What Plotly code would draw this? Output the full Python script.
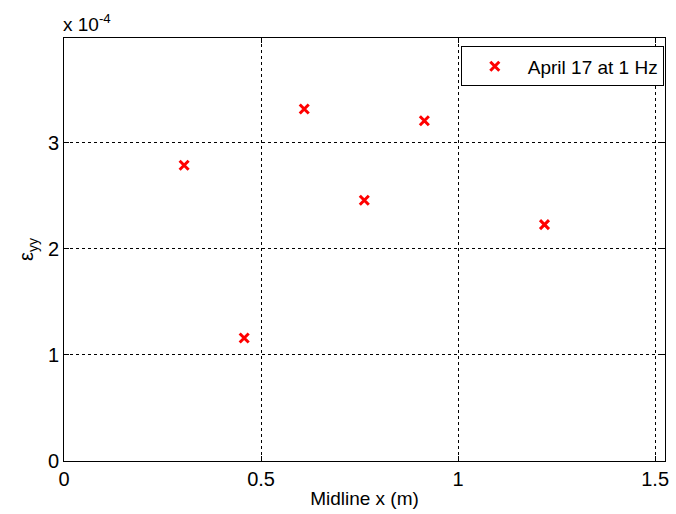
import plotly.graph_objects as go

# Midline strain measurements, April 17 at 1 Hz
midline_x_m = [0.3048, 0.4572, 0.6096, 0.762, 0.9144, 1.2192]
strain_yy = [2.79e-4, 1.16e-4, 3.32e-4, 2.46e-4, 3.21e-4, 2.23e-4]
series_name = "April 17 at 1 Hz"

x_ticks = [0, 0.5, 1, 1.5]
x_tick_text = ["0", "0.5", "1", "1.5"]
y_ticks = [0, 1e-4, 2e-4, 3e-4]
y_tick_text = ["0", "1", "2", "3"]

font_family = "Liberation Sans, Arial, sans-serif"

fig = go.Figure()
fig.add_trace(go.Scatter(
    x=midline_x_m, y=strain_yy, mode="markers", name=series_name,
    marker=dict(symbol="x-thin", size=9, color="red",
                line=dict(width=3, color="red")),
))

axis_common = dict(
    showline=True, linecolor="black", linewidth=1, mirror="ticks",
    ticks="inside", ticklen=5, tickcolor="black",
    showgrid=True, gridcolor="black", gridwidth=1, griddash="dot",
    zeroline=False, tickfont=dict(size=20, color="black", family=font_family),
)

fig.update_layout(
    width=676, height=514,
    margin=dict(l=64, r=7, t=38, b=53),
    paper_bgcolor="white", plot_bgcolor="white",
    font=dict(family=font_family, color="black", size=19),
    xaxis=dict(range=[0, 1.525], tickvals=x_ticks, ticktext=x_tick_text,
               title=dict(text="Midline x (m)", standoff=2,
                          font=dict(size=19)),
               **axis_common),
    yaxis=dict(range=[0, 3.99e-4], tickvals=y_ticks, ticktext=y_tick_text,
               title=dict(text="ε<sub>yy</sub>", standoff=8,
                          font=dict(size=20)),
               **axis_common),
    showlegend=True,
    legend=dict(x=0.998, y=0.98, xanchor="right", yanchor="top",
                bgcolor="white", bordercolor="black", borderwidth=1,
                itemwidth=56,
                font=dict(size=19, family=font_family)),
)

fig.add_annotation(
    text="x 10<sup>-4</sup>", xref="paper", yref="paper",
    x=0, y=1, xanchor="left", yanchor="bottom", showarrow=False,
    font=dict(size=19, family=font_family), xshift=-3, yshift=1,
)

fig.write_html("out.html")
